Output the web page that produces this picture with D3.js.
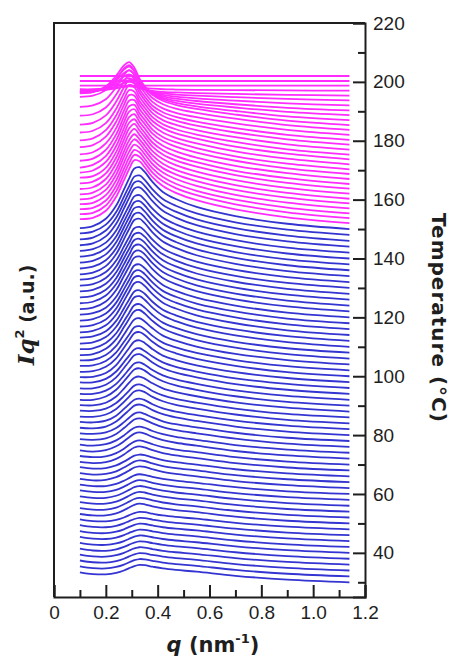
<!DOCTYPE html>
<html>
<head>
<meta charset="utf-8">
<script src="https://cdn.jsdelivr.net/npm/d3@7"></script>
<style>
  body { margin: 0; background: #fff; }
  svg { display: block; }
</style>
</head>
<body>
<div id="chart"></div>
<script>
const qPoints = [0.10, 0.15, 0.20, 0.24, 0.27, 0.29, 0.31, 0.33, 0.35, 0.38, 0.42, 0.47, 0.55, 0.70, 0.90, 1.14];

// heating curves (blue): temperature of each curve = its baseline
const blueTemps = [30, 32, 34, 36, 38, 40, 42, 44, 46, 48, 50, 52, 54, 56, 58, 60, 62, 64, 66, 68,
  70, 72, 74, 76, 78, 80, 82, 84, 86, 88, 90, 92, 94, 96, 98, 100, 102, 104, 106, 108,
  110, 112, 114, 116, 118, 120, 122, 124, 126, 128, 130, 132, 134, 136, 138, 140, 142, 144, 146, 148, 150];

// Iq^2 above the baseline, one row per visible curve shape (low T -> high T)
const blueShapes = [
  [3.4, 2.8, 2.7, 3.2, 4.0, 4.8, 5.5, 5.9, 5.8, 5.3, 4.7, 4.2, 3.6, 2.2, 0.9, 0],
  [3.2, 2.7, 2.7, 3.4, 4.5, 5.4, 6.3, 6.7, 6.5, 5.8, 5.1, 4.5, 3.8, 2.3, 0.9, 0],
  [3.1, 2.6, 2.8, 3.7, 5.0, 6.0, 7.0, 7.4, 7.2, 6.4, 5.5, 4.8, 4.0, 2.4, 1.0, 0],
  [2.9, 2.5, 2.8, 3.9, 5.4, 6.7, 7.8, 8.2, 7.8, 6.9, 5.9, 5.1, 4.2, 2.5, 1.0, 0],
  [2.8, 2.4, 2.9, 4.2, 5.9, 7.3, 8.5, 8.9, 8.5, 7.4, 6.3, 5.4, 4.4, 2.6, 1.1, 0],
  [2.6, 2.4, 2.9, 4.4, 6.4, 7.9, 9.3, 9.7, 9.2, 8.0, 6.7, 5.7, 4.6, 2.8, 1.1, 0],
  [2.5, 2.3, 2.9, 4.6, 6.9, 8.5, 10.0, 10.4, 9.9, 8.5, 7.1, 6.0, 4.8, 2.9, 1.2, 0],
  [2.3, 2.2, 3.0, 4.9, 7.3, 9.1, 10.8, 11.2, 10.6, 9.0, 7.5, 6.3, 5.0, 3.0, 1.2, 0],
  [2.2, 2.1, 3.0, 5.1, 7.8, 9.8, 11.5, 11.9, 11.2, 9.6, 7.9, 6.6, 5.2, 3.1, 1.3, 0],
  [2.0, 2.0, 3.1, 5.4, 8.3, 10.4, 12.3, 12.7, 11.9, 10.1, 8.3, 6.9, 5.4, 3.2, 1.3, 0],
  [1.9, 1.9, 3.1, 5.6, 8.8, 11.0, 13.1, 13.5, 12.6, 10.7, 8.7, 7.2, 5.6, 3.3, 1.4, 0],
  [1.7, 1.8, 3.1, 5.8, 9.2, 11.6, 13.8, 14.2, 13.3, 11.2, 9.0, 7.5, 5.7, 3.4, 1.4, 0],
  [1.5, 1.7, 3.2, 6.1, 9.7, 12.2, 14.6, 15.0, 14.0, 11.7, 9.4, 7.8, 5.9, 3.5, 1.4, 0],
  [1.4, 1.6, 3.2, 6.3, 10.2, 12.9, 15.3, 15.7, 14.6, 12.3, 9.8, 8.1, 6.1, 3.6, 1.5, 0],
  [1.2, 1.5, 3.3, 6.6, 10.7, 13.5, 16.1, 16.5, 15.3, 12.8, 10.2, 8.4, 6.3, 3.7, 1.5, 0],
  [1.1, 1.5, 3.3, 6.8, 11.1, 14.1, 16.8, 17.2, 16.0, 13.3, 10.6, 8.7, 6.5, 3.9, 1.6, 0],
  [0.9, 1.4, 3.3, 7.0, 11.6, 14.7, 17.6, 18.0, 16.7, 13.9, 11.0, 9.0, 6.7, 4.0, 1.6, 0],
  [0.8, 1.3, 3.4, 7.3, 12.1, 15.3, 18.3, 18.7, 17.4, 14.4, 11.4, 9.3, 6.9, 4.1, 1.7, 0],
  [0.6, 1.2, 3.4, 7.5, 12.6, 16.0, 19.1, 19.5, 18.0, 14.9, 11.8, 9.6, 7.1, 4.2, 1.7, 0],
  [0.5, 1.1, 3.5, 7.8, 13.0, 16.6, 19.8, 20.2, 18.7, 15.5, 12.2, 9.9, 7.3, 4.3, 1.8, 0],
  [0.3, 1.0, 3.5, 8.0, 13.5, 17.2, 20.6, 21.0, 19.4, 16.0, 12.6, 10.2, 7.5, 4.4, 1.8, 0]
];
// which shape each blue curve shows
const blueShapeOf = [0, 0, 0, 0, 0, 0, 0, 0, 0, 0, 1, 1, 1, 1, 1, 1, 2, 2, 2, 3,
  3, 4, 4, 5, 5, 6, 6, 7, 7, 8, 9, 9, 10, 10, 11, 12, 12, 13, 14, 14,
  15, 15, 16, 16, 16, 16, 17, 17, 17, 17, 17, 17, 18, 18, 18, 18, 18, 19, 19, 19, 20];

// high-temperature curves (magenta)
const pinkTemps = [152, 153.7, 155.3, 157, 158.7, 160.3, 162, 163.7, 165.3, 167, 168.7, 170.3, 172, 173.7, 175.3,
  177, 178.7, 180.3, 182, 183.7, 185.3, 187, 188.7, 190.3, 192, 193.7, 195.3, 197, 198.7, 200.3, 202];
const pinkProfiles = [
  [1.4, 1.8, 4.2, 9.0, 14.6, 18.4, 21.4, 21.0, 19.0, 15.6, 12.6, 10.3, 7.8, 4.7, 2.0, 0],
  [1.4, 1.8, 4.3, 9.2, 14.9, 18.7, 21.5, 20.9, 18.8, 15.5, 12.5, 10.2, 7.8, 4.7, 2.0, 0],
  [1.5, 1.9, 4.4, 9.4, 15.2, 19.0, 21.6, 20.8, 18.6, 15.3, 12.4, 10.1, 7.7, 4.7, 2.0, 0],
  [1.5, 1.9, 4.5, 9.6, 15.5, 19.3, 21.7, 20.6, 18.4, 15.1, 12.2, 10.0, 7.7, 4.6, 2.0, 0],
  [1.4, 2.0, 4.6, 9.8, 15.8, 19.6, 21.8, 20.4, 18.2, 14.9, 12.0, 9.9, 7.6, 4.6, 2.0, 0],
  [1.5, 2.1, 4.8, 10.0, 16.1, 19.9, 21.9, 20.2, 18.0, 14.7, 11.9, 9.8, 7.6, 4.6, 2.0, 0],
  [1.6, 2.2, 5.0, 10.3, 16.4, 20.2, 22.0, 20.0, 17.8, 14.5, 11.8, 9.7, 7.5, 4.6, 2.0, 0],
  [1.8, 2.4, 5.2, 10.6, 16.7, 20.5, 22.0, 19.8, 17.6, 14.3, 11.6, 9.6, 7.5, 4.6, 2.0, 0],
  [2.2, 2.7, 5.5, 10.9, 17.0, 20.8, 22.0, 19.6, 17.4, 14.1, 11.5, 9.5, 7.4, 4.5, 2.0, 0],
  [2.2, 2.9, 5.8, 11.2, 17.3, 21.0, 22.0, 19.4, 17.2, 13.9, 11.3, 9.4, 7.3, 4.5, 2.0, 0],
  [2.2, 3.1, 6.1, 11.5, 17.6, 21.2, 22.0, 19.2, 17.0, 13.7, 11.2, 9.3, 7.3, 4.5, 1.9, 0],
  [2.9, 3.6, 6.6, 11.9, 17.9, 21.4, 21.9, 19.0, 16.8, 13.5, 11.0, 9.2, 7.2, 4.4, 1.9, 0],
  [3.4, 4.1, 7.1, 12.3, 18.2, 21.6, 21.8, 18.8, 16.5, 13.3, 10.8, 9.0, 7.1, 4.4, 1.9, 0],
  [4.1, 4.8, 7.7, 12.8, 18.5, 21.8, 21.6, 18.5, 16.2, 13.0, 10.6, 8.8, 7.0, 4.3, 1.9, 0],
  [4.8, 5.5, 8.3, 13.3, 18.8, 21.9, 21.4, 18.2, 15.9, 12.7, 10.3, 8.6, 6.8, 4.3, 1.8, 0],
  [5.8, 6.4, 9.0, 13.9, 19.1, 22.0, 21.2, 17.9, 15.5, 12.4, 10.0, 8.4, 6.6, 4.2, 1.8, 0],
  [6.8, 7.4, 9.9, 14.6, 19.5, 22.0, 21.0, 17.6, 15.1, 12.0, 9.7, 8.1, 6.4, 4.1, 1.8, 0],
  [8.2, 8.7, 11.0, 15.4, 19.9, 22.0, 20.7, 17.2, 14.7, 11.6, 9.4, 7.8, 6.2, 4.0, 1.7, 0],
  [9.5, 10.0, 12.1, 16.2, 20.3, 22.0, 20.4, 16.8, 14.3, 11.2, 9.0, 7.5, 6.0, 3.9, 1.7, 0],
  [11.2, 11.6, 13.5, 17.2, 20.8, 22.0, 20.1, 16.4, 13.8, 10.8, 8.7, 7.2, 5.8, 3.8, 1.6, 0],
  [10.8, 11.2, 13.2, 16.8, 20.3, 21.4, 19.5, 15.8, 13.2, 10.3, 8.3, 6.9, 5.5, 3.6, 1.5, 0],
  [9.3, 9.6, 11.2, 14.2, 17.2, 18.2, 16.6, 13.4, 11.2, 8.8, 7.1, 5.9, 4.7, 3.1, 1.3, 0],
  [7.8, 8.0, 9.4, 11.8, 14.3, 15.2, 13.9, 11.2, 9.3, 7.3, 5.9, 4.9, 3.9, 2.6, 1.1, 0],
  [6.3, 6.5, 7.6, 9.5, 11.5, 12.2, 11.2, 9.0, 7.5, 5.9, 4.8, 4.0, 3.2, 2.1, 0.9, 0],
  [4.8, 4.9, 5.7, 7.2, 8.7, 9.3, 8.5, 6.9, 5.7, 4.5, 3.6, 3.0, 2.4, 1.6, 0.7, 0],
  [3.2, 3.3, 3.8, 4.8, 5.9, 6.3, 5.8, 4.7, 3.9, 3.0, 2.4, 2.0, 1.6, 1.1, 0.5, 0],
  [1.6, 1.7, 2.0, 2.5, 3.1, 3.4, 3.1, 2.5, 2.1, 1.6, 1.3, 1.1, 0.9, 0.6, 0.3, 0],
  [0.5, 0.5, 0.7, 1.0, 1.3, 1.5, 1.3, 1.1, 0.9, 0.7, 0.5, 0.4, 0.3, 0.2, 0.1, 0],
  [0, 0, 0, 0, 0, 0, 0, 0, 0, 0, 0, 0, 0, 0, 0, 0],
  [0, 0, 0, 0, 0, 0, 0, 0, 0, 0, 0, 0, 0, 0, 0, 0],
  [0, 0, 0, 0, 0, 0, 0, 0, 0, 0, 0, 0, 0, 0, 0, 0]
];

const qMajor = [0, 0.2, 0.4, 0.6, 0.8, 1.0, 1.2];
const qMinor = [0.1, 0.3, 0.5, 0.7, 0.9, 1.1];
const tMajor = [40, 60, 80, 100, 120, 140, 160, 180, 200, 220];
const tMinor = [30, 50, 70, 90, 110, 130, 150, 170, 190, 210];

const width = 454;
const height = 659;
const margin = { left: 54, right: 365, top: 23, bottom: 597 };

const svg = d3.select("#chart")
  .append("svg")
  .attr("width", width)
  .attr("height", height);

const x = d3.scaleLinear().domain([0, 1.2]).range([margin.left, margin.right]);
const y = d3.scaleLinear().domain([25, 220]).range([margin.bottom, margin.top]);

const curveOf = base => d3.line()
  .x((v, j) => x(qPoints[j]))
  .y(v => y(base + v))
  .curve(d3.curveCatmullRom.alpha(0.5));

const blueRows = blueTemps.map((t, i) => ({ base: t, values: blueShapes[blueShapeOf[i]] }));
const pinkRows = pinkTemps.map((t, i) => ({ base: t, values: pinkProfiles[i] }));

const plot = svg.append("g");
plot.selectAll("path.blue")
  .data(blueRows)
  .enter()
  .append("path")
  .attr("class", "blue")
  .attr("fill", "none")
  .attr("stroke", "#3434d2")
  .attr("stroke-width", 1.8)
  .attr("d", r => curveOf(r.base)(r.values));

plot.selectAll("path.pink")
  .data(pinkRows)
  .enter()
  .append("path")
  .attr("class", "pink")
  .attr("fill", "none")
  .attr("stroke", "#ff2bff")
  .attr("stroke-width", 1.8)
  .attr("d", r => curveOf(r.base)(r.values));

// frame: left and top lines
svg.append("path")
  .attr("d", `M${margin.left},${margin.bottom}V${margin.top}H${margin.right}`)
  .attr("fill", "none")
  .attr("stroke", "#1e1e1e")
  .attr("stroke-width", 2);

const labelFont = "'Liberation Sans', Arial, sans-serif";

svg.append("g")
  .attr("transform", `translate(0,${margin.bottom})`)
  .call(d3.axisBottom(x).tickValues(qMajor).tickSize(-12).tickPadding(9)
    .tickFormat(d => d === 0 ? "0" : d3.format(".1f")(d)));
svg.append("g")
  .attr("transform", `translate(0,${margin.bottom})`)
  .call(d3.axisBottom(x).tickValues(qMinor).tickSize(-7).tickFormat(""))
  .call(g => g.select(".domain").remove());

svg.append("g")
  .attr("transform", `translate(${margin.right},0)`)
  .call(d3.axisRight(y).tickValues(tMajor).tickSize(-12).tickPadding(8));
svg.append("g")
  .attr("transform", `translate(${margin.right},0)`)
  .call(d3.axisRight(y).tickValues(tMinor).tickSize(-7).tickFormat(""))
  .call(g => g.select(".domain").remove());

svg.selectAll(".domain").attr("stroke", "#1e1e1e").attr("stroke-width", 2);
svg.selectAll(".tick line").attr("stroke", "#1e1e1e").attr("stroke-width", 2);
svg.selectAll(".tick text")
  .attr("font-family", labelFont)
  .attr("font-size", 19)
  .attr("fill", "#1e1e1e");

// axis titles
const titleFont = "'DejaVu Sans', Verdana, sans-serif";

const xTitle = svg.append("text")
  .attr("x", 213)
  .attr("y", 652)
  .attr("text-anchor", "middle")
  .attr("font-family", titleFont)
  .attr("font-weight", "bold")
  .attr("font-size", 21)
  .attr("fill", "#1e1e1e");
xTitle.append("tspan").attr("font-style", "italic").text("q");
xTitle.append("tspan").text(" (nm");
xTitle.append("tspan").attr("font-size", 13).attr("dy", -9).text("-1");
xTitle.append("tspan").attr("dy", 9).text(")");

const yTitle = svg.append("text")
  .attr("transform", "translate(34,315) rotate(-90)")
  .attr("text-anchor", "middle")
  .attr("font-family", titleFont)
  .attr("font-weight", "bold")
  .attr("font-size", 19)
  .attr("fill", "#1e1e1e");
yTitle.append("tspan").attr("font-family", "'DejaVu Serif', serif").attr("font-style", "italic").attr("font-size", 23).text("Iq");
yTitle.append("tspan").attr("font-size", 13).attr("dy", -10).text("2");
yTitle.append("tspan").attr("dy", 10).text(" (a.u.)");

svg.append("text")
  .attr("transform", "translate(432,318) rotate(90)")
  .attr("text-anchor", "middle")
  .attr("font-family", titleFont)
  .attr("font-weight", "bold")
  .attr("font-size", 20)
  .attr("letter-spacing", 1)
  .attr("fill", "#1e1e1e")
  .text("Temperature (°C)");
</script>
</body>
</html>
